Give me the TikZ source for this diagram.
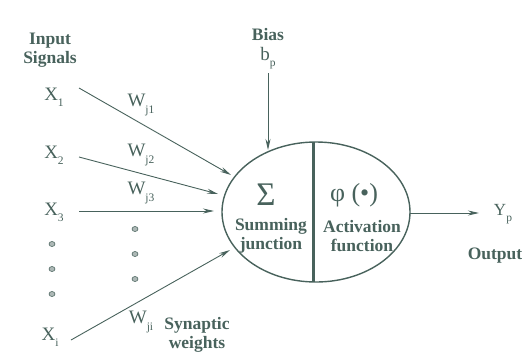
\documentclass[tikz,border=0pt]{standalone}
\usepackage{fontspec}
\setmainfont{Liberation Serif}
\usetikzlibrary{arrows.meta,shapes.geometric}
\definecolor{ink}{RGB}{72,98,92}
\newcommand{\sbs}[1]{\raisebox{-0.32em}{\fontsize{11.5}{11.5}\selectfont #1}}
\tikzset{
  lbl/.style={text=ink, font=\bfseries\fontsize{17.5}{19}\selectfont, align=center, inner sep=0pt},
  var/.style={text=ink, font=\fontsize{19}{21}\selectfont, inner sep=0pt},
  wire/.style={draw=ink, line width=0.9pt, -{Stealth[length=11pt,width=5pt]}},
  dotm/.style={fill=ink!45, draw=ink, line width=0.6pt, ellipse, minimum width=6pt, minimum height=5pt, inner sep=0pt}
}
\begin{document}
\begin{tikzpicture}[x=1pt,y=-1pt]
\useasboundingbox (0,0) rectangle (522,357);
% neuron body
\node[ellipse, draw=ink, line width=1.4pt, minimum width=188pt, minimum height=140pt, inner sep=0pt] (body) at (316,212) {};
\coordinate (dtop) at (313,142);
\coordinate (dbot) at (313,282);
\draw[ink, line width=3pt] (dtop) -- (dbot);
\node[text=ink, font=\fontsize{33}{33}\selectfont, inner sep=0pt] (sigma) at (266,195) {Σ};
\node[text=ink, font=\fontsize{26}{26}\selectfont, inner sep=0pt] (phi) at (354,195) {φ (•)};
\node[lbl] (sum) at (271,236) {Summing\\junction};
\node[lbl] (act) at (362,236) {Activation\\function};
% labels
\node[lbl] (inp) at (50,50) {Input\\Signals};
\node[lbl] (bias) at (268,35) {Bias};
\node[var] (bp) at (268,58) {b\sbs{p}};
\node[lbl] (out) at (495,256) {Output};
\node[var, font=\fontsize{17}{19}\selectfont] (yp) at (503,214) {Y\sbs{p}};
\node[lbl] (syn) at (197,335) {Synaptic\\weights};
% inputs
\node[var] (x1) at (54,97) {X\sbs{1}};
\node[var] (x2) at (54,155) {X\sbs{2}};
\node[var] (x3) at (54,212) {X\sbs{3}};
\node[var] (xi) at (50,337) {X\sbs{i}};
\node[dotm] (d1) at (52,244) {};
\node[dotm] (d2) at (52,269) {};
\node[dotm] (d3) at (52,294) {};
% weights
\node[var] (w1) at (141,105) {W\sbs{j1}};
\node[var] (w2) at (141,155) {W\sbs{j2}};
\node[var] (w3) at (141,193) {W\sbs{j3}};
\node[var] (wi) at (141,322) {W\sbs{ji}};
\node[dotm] (e1) at (135,229) {};
\node[dotm] (e2) at (135,254) {};
\node[dotm] (e3) at (135,279) {};
% connector ends
\coordinate (s1) at (79,88);
\coordinate (t1) at (231,175);
\coordinate (s2) at (79,157);
\coordinate (t2) at (218,194);
\coordinate (s3) at (79,211);
\coordinate (t3) at (214,211);
\coordinate (si) at (71,340);
\coordinate (ti) at (230,250);
\coordinate (bs) at (268,73);
\coordinate (bt) at (268,150);
\coordinate (os) at (410,213);
\coordinate (ot) at (479,213);
\draw[wire] (s1) -- (t1);
\draw[wire] (s2) -- (t2);
\draw[wire] (s3) -- (t3);
\draw[wire] (si) -- (ti);
\draw[wire] (bs) -- (bt);
\draw[wire] (os) -- (ot);
\end{tikzpicture}
\end{document}
